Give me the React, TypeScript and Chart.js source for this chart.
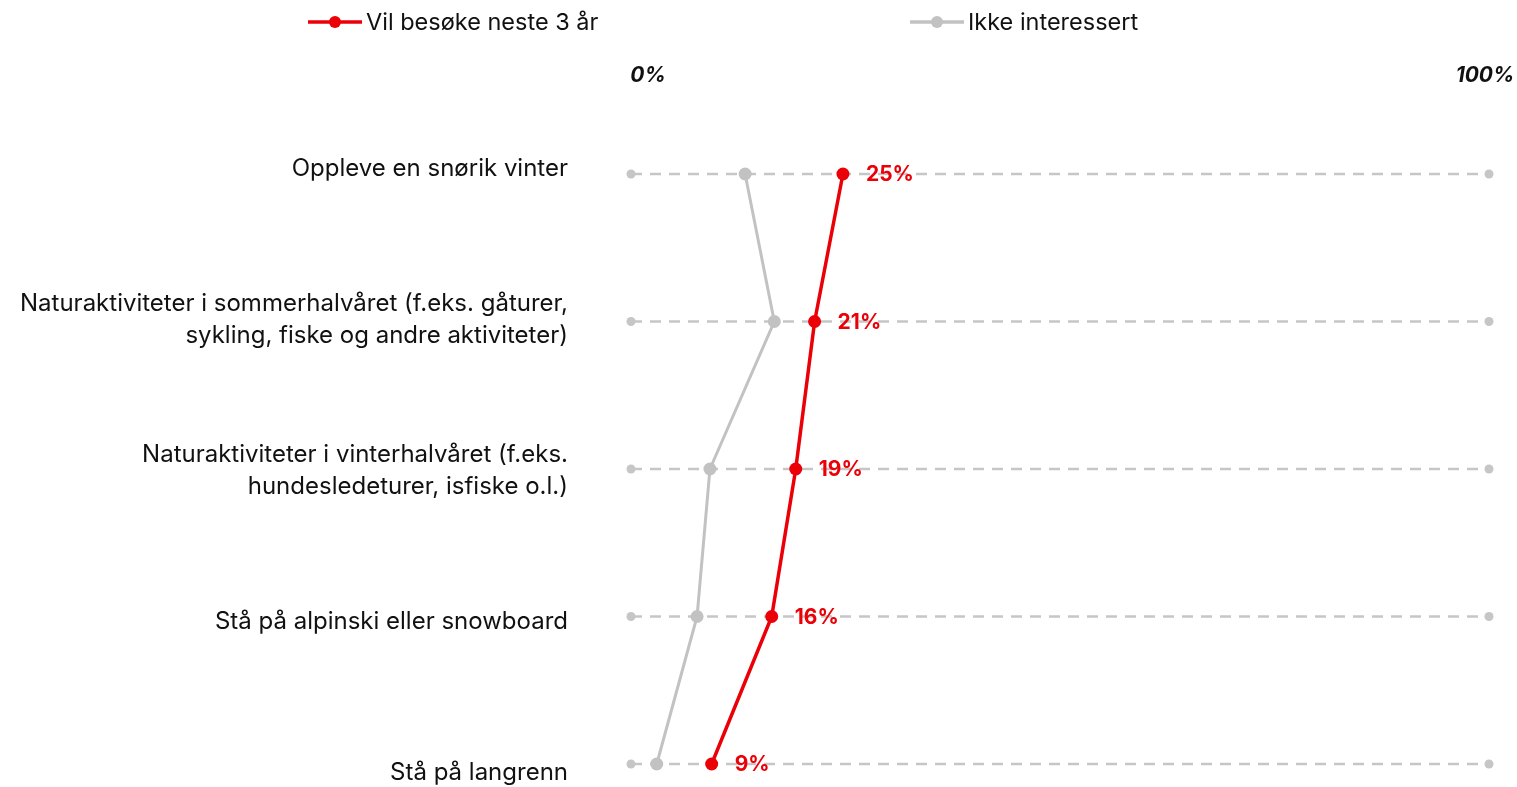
import React, { useEffect, useRef } from "react";
import { Chart, registerables } from "chart.js";

Chart.register(...registerables);

const categories: (string | string[])[] = [
  "Oppleve en snørik vinter",
  ["Naturaktiviteter i sommerhalvåret (f.eks. gåturer,", "sykling, fiske og andre aktiviteter)"],
  ["Naturaktiviteter i vinterhalvåret (f.eks.", "hundesledeturer, isfiske o.l.)"],
  "Stå på alpinski eller snowboard",
  "Stå på langrenn",
];
const visitValues = [24.7, 21.4, 19.2, 16.4, 9.4];
const notInterestedValues = [13.3, 16.7, 9.2, 7.7, 3.0];
const seriesNames = ["Vil besøke neste 3 år", "Ikke interessert"];
const axisTicks = [0, 100];

const RED = "#eb0008";
const GRAY = "#c2c2c2";
const GRID = "#c6c6c6";
const FONT = "Inter, 'Noto Sans', sans-serif";

const W = 1517;
const H = 787;

const legendPlugin = {
  id: "customLegend",
  afterDraw(chart: any) {
    const ctx = chart.ctx;
    const items = [
      { text: seriesNames[0], color: RED, x: 308 },
      { text: seriesNames[1], color: GRAY, x: 910 },
    ];
    const y = 22;
    ctx.save();
    items.forEach((it) => {
      ctx.strokeStyle = it.color;
      ctx.lineWidth = 3.5;
      ctx.beginPath();
      ctx.moveTo(it.x, y);
      ctx.lineTo(it.x + 54, y);
      ctx.stroke();
      ctx.fillStyle = it.color;
      ctx.beginPath();
      ctx.arc(it.x + 27, y, 6, 0, Math.PI * 2);
      ctx.fill();
      ctx.fillStyle = "#111";
      ctx.font = `23.5px ${FONT}`;
      ctx.textBaseline = "middle";
      ctx.textAlign = "left";
      ctx.fillText(it.text, it.x + 58, y + 1);
    });
    ctx.restore();
  },
};

const valueLabelPlugin = {
  id: "valueLabels",
  afterDatasetsDraw(chart: any) {
    const ctx = chart.ctx;
    const idx = chart.data.datasets.findIndex((d: any) => d.label === seriesNames[0]);
    if (idx < 0) return;
    const meta = chart.getDatasetMeta(idx);
    ctx.save();
    ctx.fillStyle = RED;
    ctx.font = `bold 21px ${FONT}`;
    ctx.textBaseline = "middle";
    ctx.textAlign = "left";
    meta.data.forEach((pt: any, i: number) => {
      ctx.fillText(`${Math.round(visitValues[i])}%`, pt.x + 23, pt.y + 1);
    });
    ctx.restore();
  },
};

export default function App() {
  const ref = useRef<HTMLCanvasElement>(null);
  useEffect(() => {
    document.body.style.margin = "0";
    document.documentElement.style.overflow = "hidden";
    if (!ref.current) return;
    const gridSets = categories.map((_, i) => ({
      label: `grid${i}`,
      data: [
        { x: axisTicks[0], y: i },
        { x: axisTicks[1], y: i },
      ],
      borderColor: GRID,
      backgroundColor: GRID,
      borderWidth: 2.5,
      borderDash: [11, 8],
      pointRadius: 4.5,
      pointHoverRadius: 4.5,
      pointBorderWidth: 0,
      clip: false,
      order: 10,
    }));
    const chart = new Chart(ref.current, {
      type: "line",
      data: {
        datasets: [
          ...gridSets,
          {
            label: seriesNames[1],
            data: notInterestedValues.map((v, i) => ({ x: v, y: i })),
            borderColor: GRAY,
            backgroundColor: GRAY,
            borderWidth: 3,
            pointRadius: 6.5,
            pointBorderWidth: 0,
            clip: false,
            order: 2,
          },
          {
            label: seriesNames[0],
            data: visitValues.map((v, i) => ({ x: v, y: i })),
            borderColor: RED,
            backgroundColor: RED,
            borderWidth: 3.5,
            pointRadius: 6.5,
            pointBorderWidth: 0,
            clip: false,
            order: 1,
          },
        ] as any,
      },
      options: {
        animation: false,
        responsive: false,
        layout: { padding: { top: 0, right: 28, bottom: 14, left: 0 } },
        plugins: { legend: { display: false }, tooltip: { enabled: false } },
        scales: {
          x: { type: "linear", min: 0, max: 100, display: false },
          x2: {
            type: "linear",
            position: "top",
            min: -2.03,
            max: 100.48,
            grid: { display: false, drawTicks: false },
            border: { display: false },
            afterBuildTicks: (s: any) => {
              s.ticks = axisTicks.map((v) => ({ value: v }));
            },
            afterFit: (s: any) => {
              s.height = 169;
              s.paddingLeft = 0;
              s.paddingRight = 0;
            },
            ticks: {
              padding: 81,
              color: "#111",
              font: { family: FONT, size: 21, style: "italic", weight: "bold" },
              callback: (v: any) => `${v}%`,
            },
          },
          y: { type: "linear", reverse: true, min: -0.0339, max: 4.061, display: false },
          yl: {
            type: "category",
            position: "left",
            labels: categories as any,
            offset: false,
            grid: { display: false, drawTicks: false },
            border: { display: false },
            afterFit: (s: any) => {
              s.width = 631;
              s.paddingTop = 0;
              s.paddingBottom = 0;
            },
            ticks: {
              padding: 63,
              color: "#111",
              font: { family: FONT, size: 24, lineHeight: 1.333 },
              autoSkip: false,
            },
          },
        } as any,
      },
      plugins: [legendPlugin, valueLabelPlugin],
    });
    return () => chart.destroy();
  }, []);
  return (
    <div style={{ width: W + "px", height: H + "px", position: "relative" }}>
      <canvas ref={ref} width={W} height={H} style={{ display: "block" }} />
    </div>
  );
}
